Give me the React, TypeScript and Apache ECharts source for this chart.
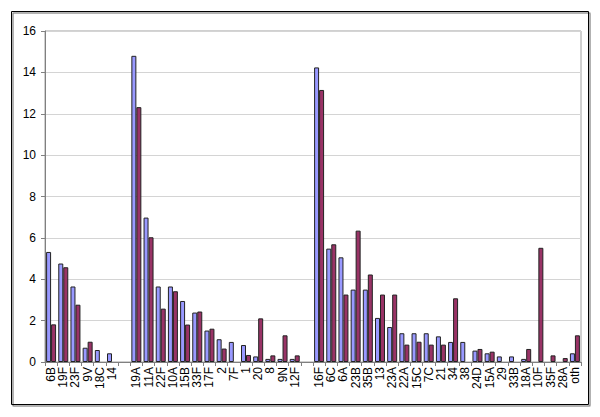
import React, { useEffect, useRef } from "react";
import * as echarts from "echarts";

const categories = [
  "6B", "19F", "23F", "9V", "18C", "14", "",
  "19A", "11A", "22F", "10A", "15B", "33F", "17F", "2", "7F", "1", "20", "8", "9N", "12F", " ",
  "16F", "6C", "6A", "23B", "35B", "13", "23A", "22A", "15C", "7C", "21", "34", "38", "24D", "15A", "29", "33B", "18A", "10F", "35F", "28A", "oth",
];

const seriesA = [
  5.32, 4.76, 3.65, 0.69, 0.58, 0.42, null,
  14.8, 6.98, 3.65, 3.65, 2.95, 2.39, 1.52, 1.10, 0.97, 0.82, 0.27, 0.15, 0.15, 0.15, null,
  14.24, 5.48, 5.06, 3.5, 3.5, 2.13, 1.69, 1.39, 1.39, 1.39, 1.24, 0.97, 0.97, 0.55, 0.42, 0.27, 0.27, 0.15, null, null, null, 0.42,
];

const seriesB = [
  1.82, 4.58, 2.77, 0.98, null, null, null,
  12.32, 6.03, 2.58, 3.42, 1.81, 2.44, 1.61, 0.65, null, 0.34, 2.11, 0.32, 1.29, 0.32, null,
  13.15, 5.69, 3.26, 6.35, 4.23, 3.26, 3.26, 0.84, 0.98, 0.84, 0.84, 3.08, null, 0.63, 0.5, null, null, 0.63, 5.52, 0.32, 0.19, 1.29,
];

const yTicks = { min: 0, max: 16, interval: 2 };

export default function App() {
  const ref = useRef<HTMLDivElement>(null);
  useEffect(() => {
    if (!ref.current) return;
    const chart = echarts.init(ref.current, undefined, { renderer: "svg" });
    chart.setOption({
      animation: false,
      backgroundColor: "#fff",
      textStyle: { fontFamily: "Liberation Sans, Arial, sans-serif" },
      graphic: [
        {
          type: "rect",
          shape: { x: 11.5, y: 11.5, width: 577, height: 393 },
          style: { fill: "none", stroke: "#000", lineWidth: 1, shadowColor: "rgba(0,0,0,0.6)", shadowOffsetX: 1.5, shadowOffsetY: 1.5, shadowBlur: 1 },
          z: -1,
        },
      ],
      grid: { left: 45, top: 31, right: 19, bottom: 55, show: true, borderColor: "#a0a0a0", borderWidth: 1 },
      xAxis: {
        type: "category",
        data: categories,
        axisLine: { lineStyle: { color: "#808080" } },
        axisTick: { show: true, interval: 0, length: 4, lineStyle: { color: "#808080" } },
        axisLabel: { interval: 0, rotate: 90, fontSize: 12, color: "#000", margin: 5 },
      },
      yAxis: {
        type: "value",
        min: yTicks.min,
        max: yTicks.max,
        interval: yTicks.interval,
        axisLine: { show: true, lineStyle: { color: "#808080" } },
        axisTick: { show: true, length: 4, lineStyle: { color: "#808080" } },
        axisLabel: { fontSize: 12, color: "#000", margin: 9 },
        splitLine: { lineStyle: { color: "#d4d4d4" } },
      },
      series: [
        {
          type: "bar",
          data: seriesA,
          barGap: "0%",
          barCategoryGap: "18%",
          itemStyle: { color: "#9999FF", borderColor: "#222", borderWidth: 1 },
        },
        {
          type: "bar",
          data: seriesB,
          itemStyle: { color: "#993366", borderColor: "#222", borderWidth: 1 },
        },
      ],
    });
    return () => chart.dispose();
  }, []);
  return <div ref={ref} style={{ width: 600, height: 417, position: "absolute", left: 0, top: 0 }} />;
}
